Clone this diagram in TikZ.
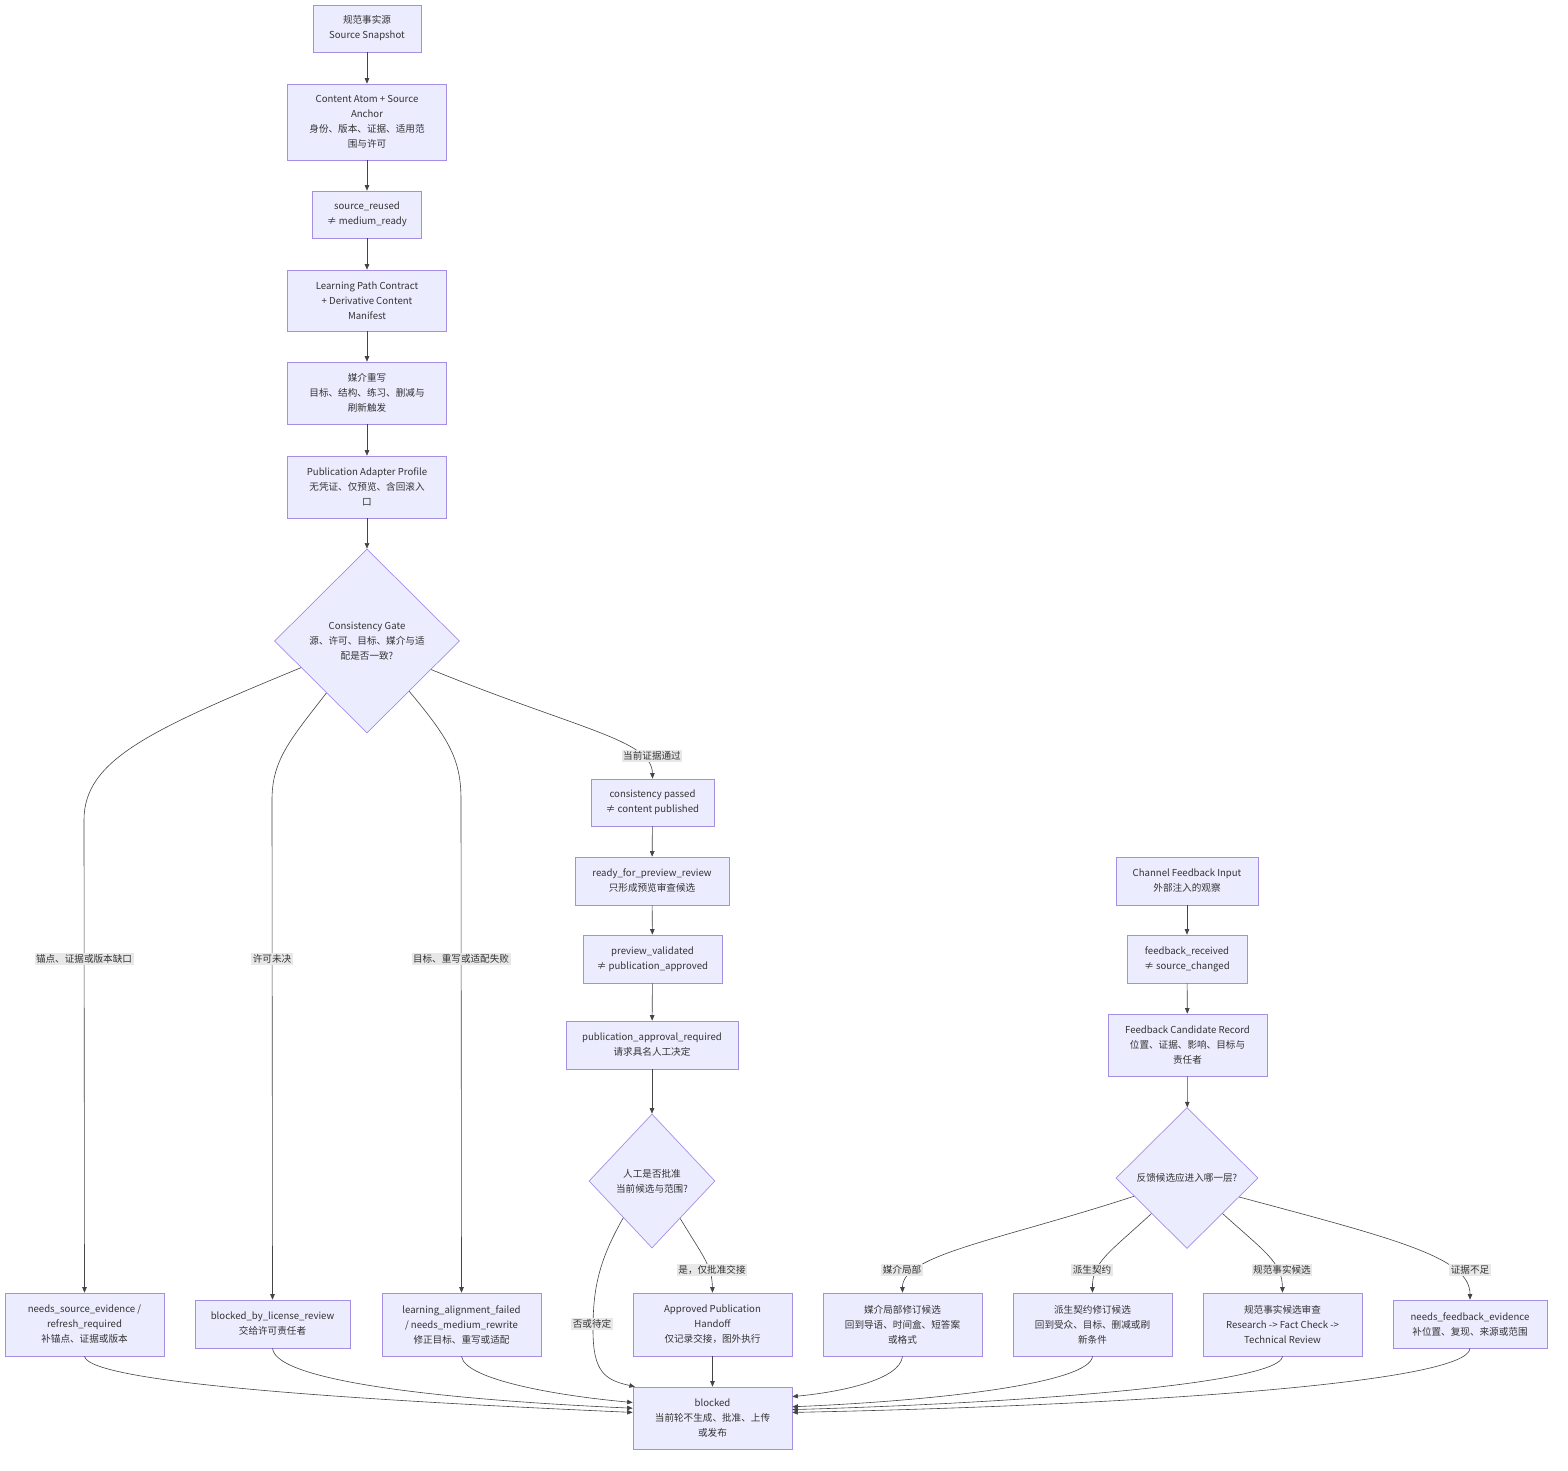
\documentclass[tikz,border=0pt]{standalone}
\usepackage{fontspec}
\setmainfont{Noto Sans CJK SC}
\usetikzlibrary{shapes.geometric,arrows.meta}
\definecolor{boxfill}{HTML}{ECECFF}
\definecolor{boxline}{HTML}{A58EE6}
\definecolor{edgecol}{HTML}{444444}
\definecolor{lblfill}{HTML}{E8E8E8}
\definecolor{txt}{HTML}{333333}
\begin{document}
\begin{tikzpicture}[x=1pt,y=-1pt,font=\fontsize{9.6}{15}\selectfont,
  box/.style={draw=boxline,fill=boxfill,line width=0.7pt,align=center,text=txt,inner sep=0pt},
  dia/.style={diamond,draw=boxline,fill=boxfill,line width=0.7pt,align=center,text=txt,inner sep=0pt,aspect=1},
  edge/.style={draw=edgecol,line width=0.6pt,-{Triangle[length=5.5pt,width=4.5pt]}},
  lbl/.style={fill=lblfill,text=txt,inner sep=1.5pt}]
\useasboundingbox[fill=white] (0,0) rectangle (1568,1470);

% left/main column
\node[box,minimum width=108,minimum height=47] (src) at (367,28.5) {规范事实源\\Source Snapshot};
\node[box,minimum width=159,minimum height=76] (atom) at (367,122) {Content Atom + Source\\Anchor\\身份、版本、证据、适用范\\围与许可};
\node[box,minimum width=109,minimum height=47] (reused) at (367,214.5) {source\_reused\\≠ medium\_ready};
\node[box,minimum width=159,minimum height=61] (lpc) at (367,300.5) {Learning Path Contract\\+ Derivative Content\\Manifest};
\node[box,minimum width=159,minimum height=62] (med) at (367,393) {媒介重写\\目标、结构、练习、删减与\\刷新触发};
\node[box,minimum width=159,minimum height=62] (pap) at (367,487) {Publication Adapter Profile\\无凭证、仅预览、含回滚入\\口};
\node[dia,minimum width=185,minimum height=184] (gate) at (367,641) {Consistency Gate\\源、许可、目标、媒介与适\\配是否一致?};

% bottom row left
\node[box,minimum width=159,minimum height=63] (ns) at (84.5,1324.5) {needs\_source\_evidence /\\refresh\_required\\补锚点、证据或版本};
\node[box,minimum width=155,minimum height=48] (lic) at (272.5,1324) {blocked\_by\_license\_review\\交给许可责任者};
\node[box,minimum width=159,minimum height=63] (la) at (461.5,1324.5) {learning\_alignment\_failed\\/ needs\_medium\_rewrite\\修正目标、重写或适配};

% middle column
\node[box,minimum width=123,minimum height=47] (pass) at (652.5,802.5) {consistency passed\\≠ content published};
\node[box,minimum width=154,minimum height=48] (ready) at (652,881) {ready\_for\_preview\_review\\只形成预览审查候选};
\node[box,minimum width=139,minimum height=48] (pv) at (652.5,959) {preview\_validated\\≠ publication\_approved};
\node[box,minimum width=172,minimum height=48] (par) at (652,1045) {publication\_approval\_required\\请求具名人工决定};
\node[dia,minimum width=126,minimum height=134] (hd) at (652,1181) {人工是否批准\\当前候选与范围?};
\node[box,minimum width=159,minimum height=63] (ah) at (712.5,1324.5) {Approved Publication\\Handoff\\仅记录交接，图外执行};
\node[box,minimum width=159,minimum height=62] (blocked) at (712.5,1418) {blocked\\当前轮不生成、批准、上传\\或发布};

% right column
\node[box,minimum width=142,minimum height=48] (cf) at (1187,881) {Channel Feedback Input\\外部注入的观察};
\node[box,minimum width=120,minimum height=48] (fr) at (1187,959) {feedback\_received\\≠ source\_changed};
\node[box,minimum width=159,minimum height=62] (fcr) at (1187.5,1045) {Feedback Candidate Record\\位置、证据、影响、目标与\\责任者};
\node[dia,minimum width=142,minimum height=141] (fd) at (1187,1178) {反馈候选应进入哪一层?};

% bottom row right
\node[box,minimum width=159,minimum height=63] (ml) at (902.5,1324.5) {媒介局部修订候选\\回到导语、时间盒、短答案\\或格式};
\node[box,minimum width=159,minimum height=63] (dc) at (1092.5,1324.5) {派生契约修订候选\\回到受众、目标、删减或刷\\新条件};
\node[box,minimum width=159,minimum height=63] (fact) at (1282.5,1324.5) {规范事实候选审查\\Research -> Fact Check ->\\Technical Review};
\node[box,minimum width=154,minimum height=48] (nfe) at (1470,1324) {needs\_feedback\_evidence\\补位置、复现、来源或范围};

% straight edges
\draw[edge] (src) -- (atom);
\draw[edge] (atom) -- (reused);
\draw[edge] (reused) -- (lpc);
\draw[edge] (lpc) -- (med);
\draw[edge] (med) -- (pap);
\draw[edge] (pap) -- (gate);
\draw[edge] (pass) -- (ready);
\draw[edge] (ready) -- (pv);
\draw[edge] (pv) -- (par);
\draw[edge] (par) -- (hd);
\draw[edge] (ah) -- (blocked);
\draw[edge] (cf) -- (fr);
\draw[edge] (fr) -- (fcr);
\draw[edge] (fcr) -- (fd);

% gate branches
\draw[edge] (gate.202) .. controls (150,730) and (84,760) .. (84,820) -- (ns.north);
\draw[edge] (gate.232) .. controls (290,740) and (272,760) .. (272,800) -- (lic.north);
\draw[edge] (gate.310) .. controls (450,740) and (461,760) .. (461,800) -- (la.north);
\draw[edge] (gate.336) .. controls (580,730) and (652,740) .. (pass.north);

% human decision
\draw[edge] (hd.307) .. controls (702,1255) and (712,1265) .. (ah.north);
\draw[edge] (hd.232) .. controls (598,1262) and (593,1290) .. (593,1330) .. controls (593,1372) and (605,1380) .. (blocked.158);

% feedback decision
\draw[edge] (fd.199) .. controls (1000,1240) and (902,1255) .. (ml.north);
\draw[edge] (fd.225) .. controls (1110,1252) and (1092,1262) .. (dc.north);
\draw[edge] (fd.315) .. controls (1265,1252) and (1282,1262) .. (fact.north);
\draw[edge] (fd.340) .. controls (1400,1240) and (1470,1258) .. (nfe.north);

% merges into blocked
\draw[edge] (ns.south) .. controls (90,1385) and (400,1402) .. (blocked.176);
\draw[edge] (lic.south) .. controls (276,1382) and (450,1400) .. (blocked.173);
\draw[edge] (la.south) .. controls (465,1380) and (560,1396) .. (blocked.169);
\draw[edge] (ml.south) .. controls (900,1380) and (840,1392) .. (blocked.15);
\draw[edge] (dc.south) .. controls (1090,1382) and (950,1400) .. (blocked.8);
\draw[edge] (fact.south) .. controls (1280,1382) and (1050,1402) .. (blocked.6);
\draw[edge] (nfe.south) .. controls (1468,1382) and (1150,1405) .. (blocked.4);

% edge labels
\node[lbl] (l1) at (84,959) {锚点、证据或版本缺口};
\node[lbl] (l2) at (272,959) {许可未决};
\node[lbl] (l3) at (461,959) {目标、重写或适配失败};
\node[lbl] (l4) at (652,756) {当前证据通过};
\node[lbl] (l5) at (592,1324) {否或待定};
\node[lbl] (l6) at (712,1270) {是，仅批准交接};
\node[lbl] (l7) at (902,1270) {媒介局部};
\node[lbl] (l8) at (1092,1270) {派生契约};
\node[lbl] (l9) at (1282,1270) {规范事实候选};
\node[lbl] (l10) at (1470,1270) {证据不足};
\end{tikzpicture}
\end{document}
